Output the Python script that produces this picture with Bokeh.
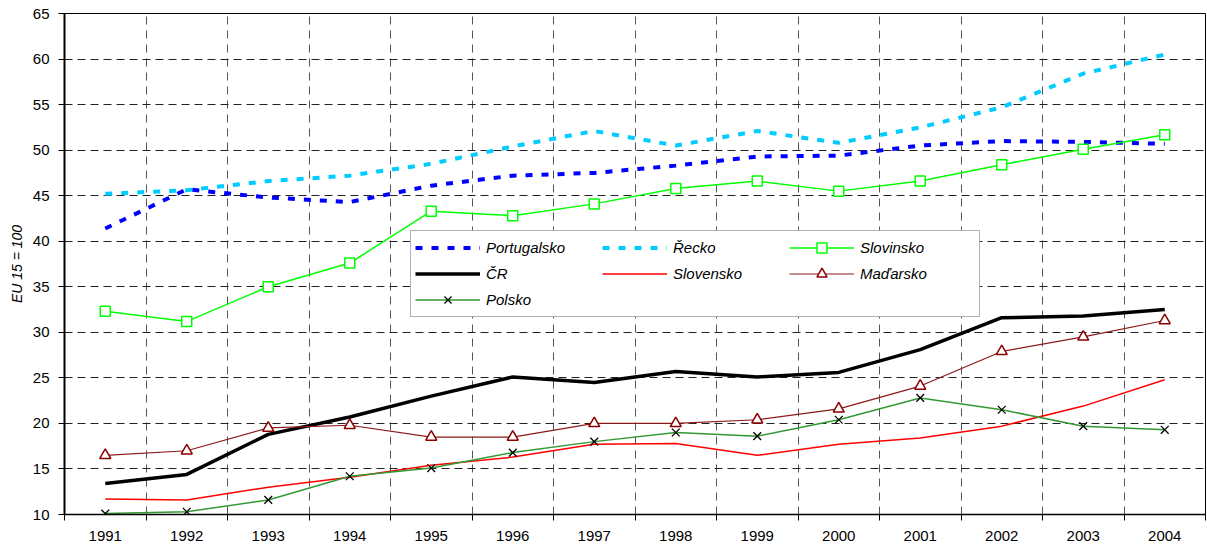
from bokeh.plotting import figure
from bokeh.models import Range1d, FixedTicker, Legend, LegendItem
from bokeh.embed import file_html
from bokeh.resources import INLINE

years = [1991, 1992, 1993, 1994, 1995, 1996, 1997, 1998, 1999, 2000, 2001, 2002, 2003, 2004]
portugalsko = [41.4, 45.7, 44.8, 44.3, 46.1, 47.2, 47.5, 48.3, 49.3, 49.4, 50.5, 51.0, 50.9, 50.7]
recko = [45.2, 45.6, 46.6, 47.2, 48.5, 50.4, 52.1, 50.5, 52.1, 50.8, 52.5, 54.7, 58.4, 60.5]
slovinsko = [32.3, 31.2, 35.0, 37.6, 43.3, 42.8, 44.1, 45.8, 46.6, 45.5, 46.6, 48.4, 50.1, 51.7]
cr = [13.4, 14.4, 18.8, 20.7, 23.0, 25.1, 24.5, 25.7, 25.1, 25.6, 28.1, 31.6, 31.8, 32.5]
slovensko = [11.7, 11.6, 13.0, 14.1, 15.4, 16.3, 17.7, 17.8, 16.5, 17.7, 18.4, 19.7, 21.9, 24.8]
madarsko = [16.5, 17.0, 19.5, 19.8, 18.5, 18.5, 20.0, 20.0, 20.4, 21.6, 24.1, 27.9, 29.5, 31.3]
polsko = [10.1, 10.3, 11.6, 14.2, 15.1, 16.8, 18.0, 19.0, 18.6, 20.4, 22.8, 21.5, 19.7, 19.3]
y_ticks = [10, 15, 20, 25, 30, 35, 40, 45, 50, 55, 60, 65]
y_label = "EU 15 = 100"

FONT = "Liberation Sans"
n = len(years)
x = list(range(n))
centers = list(range(n))
bounds = [i - 0.5 for i in range(n + 1)]

p = figure(width=1207, height=552, output_backend="svg", toolbar_location=None,
           x_range=Range1d(-0.5, n - 0.5), y_range=Range1d(10, 65),
           min_border_left=64, min_border_right=2, min_border_top=13, min_border_bottom=38)
p.background_fill_color = "white"
p.border_fill_color = "white"
p.outline_line_color = "black"
p.outline_line_width = 1

# axes
p.xaxis.ticker = FixedTicker(ticks=centers, minor_ticks=bounds)
p.xaxis.major_label_overrides = {i: str(y) for i, y in enumerate(years)}
p.xaxis.major_tick_line_color = None
p.xaxis.minor_tick_line_color = "black"
p.xaxis.minor_tick_out = 6
p.xaxis.minor_tick_in = 0
p.xaxis.axis_line_color = "black"
p.xaxis.axis_line_width = 1.5
p.xaxis.major_label_standoff = 10
p.xaxis.major_label_text_font = FONT
p.xaxis.major_label_text_font_size = "15px"
p.xaxis.major_label_text_color = "black"

p.yaxis.ticker = FixedTicker(ticks=y_ticks)
p.yaxis.minor_tick_line_color = None
p.yaxis.major_tick_out = 6
p.yaxis.major_tick_in = 0
p.yaxis.major_tick_line_color = "black"
p.yaxis.axis_line_color = "black"
p.yaxis.axis_line_width = 2
p.yaxis.major_label_standoff = 9
p.yaxis.major_label_text_font = FONT
p.yaxis.major_label_text_font_size = "15px"
p.yaxis.major_label_text_color = "black"
p.yaxis.axis_label = y_label
p.yaxis.axis_label_text_font = FONT
p.yaxis.axis_label_text_font_size = "14px"
p.yaxis.axis_label_text_font_style = "italic"
p.yaxis.axis_label_text_color = "black"
p.yaxis.axis_label_standoff = 5

# grids
p.xgrid.ticker = FixedTicker(ticks=bounds[1:-1])
p.xgrid.grid_line_color = "#555555"
p.xgrid.grid_line_dash = "8 6"
p.xgrid.grid_line_width = 1
p.ygrid.ticker = FixedTicker(ticks=y_ticks[1:-1])
p.ygrid.grid_line_color = "#222222"
p.ygrid.grid_line_dash = "8 5"
p.ygrid.grid_line_width = 1

# series
r_pt = p.line(x, portugalsko, line_color="#0000FF", line_width=4, line_dash="7 9")
r_gr = p.line(x, recko, line_color="#00CCFF", line_width=4, line_dash="7 9")
r_si_l = p.line(x, slovinsko, line_color="#00FF00", line_width=1.5)
r_si_m = p.scatter(x, slovinsko, marker="square", size=10, line_color="#00FF00",
                   fill_color="white", line_width=1.5)
r_cr = p.line(x, cr, line_color="black", line_width=3.5)
r_sk = p.line(x, slovensko, line_color="#FF0000", line_width=1.5)
r_hu_l = p.line(x, madarsko, line_color="#8B1A1A", line_width=1.2)
r_hu_m = p.scatter(x, madarsko, marker="triangle", size=11, line_color="#8B0000",
                   fill_color="white", line_width=1.5)
r_pl_l = p.line(x, polsko, line_color="#339933", line_width=1.5)
r_pl_m = p.scatter(x, polsko, marker="x", size=11, line_color="black", line_width=1.3)

legend = Legend(items=[
    LegendItem(label="Portugalsko", renderers=[r_pt]),
    LegendItem(label="Řecko", renderers=[r_gr]),
    LegendItem(label="Slovinsko", renderers=[r_si_l, r_si_m]),
    LegendItem(label="ČR", renderers=[r_cr]),
    LegendItem(label="Slovensko", renderers=[r_sk]),
    LegendItem(label="Maďarsko", renderers=[r_hu_l, r_hu_m]),
    LegendItem(label="Polsko", renderers=[r_pl_l, r_pl_m]),
], orientation="horizontal", ncols=3, location=(346, 197))
legend.glyph_width = 65
legend.glyph_height = 25
legend.label_height = 25
legend.label_width = 115
legend.label_standoff = 6
legend.spacing = 1
legend.padding = 4
legend.margin = 0
legend.label_text_font = FONT
legend.label_text_font_size = "15px"
legend.label_text_font_style = "italic"
legend.label_text_color = "black"
legend.border_line_color = "#666666"
legend.border_line_width = 1
legend.background_fill_color = "white"
legend.background_fill_alpha = 1
p.add_layout(legend)

open("out.html", "w").write(file_html(p, INLINE))
